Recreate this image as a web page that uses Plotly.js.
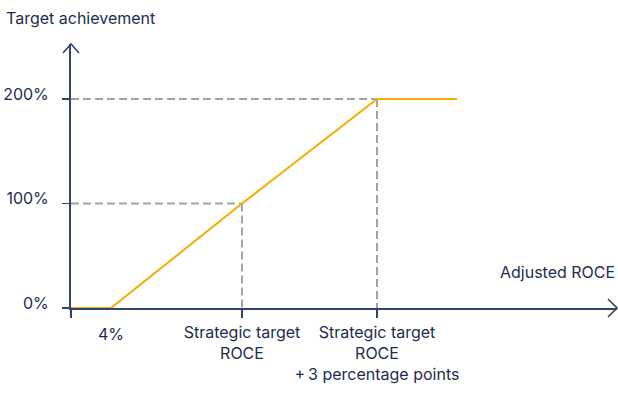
<!DOCTYPE html>
<html>
<head>
<meta charset="utf-8">
<script src="https://cdn.plot.ly/plotly-3.0.1.min.js"></script>
<style>
  html, body { margin: 0; padding: 0; background: #fff; }
  #chart { width: 618px; height: 398px; }
</style>
</head>
<body>
<div id="chart"></div>
<script>
// schematic ROCE positions (not to scale) and target achievement in %
var rocePos = [0, 4, 17.1, 30.6, 38.6];
var achievement = [0, 0, 100, 200, 200];

var xTickVals = [0, 17.1, 30.6];
var xTickText = ['', 'Strategic target<br>ROCE', 'Strategic target<br>ROCE<br>+\u20093 percentage points'];
var yTickVals = [0, 100, 200];
var yTickText = ['0%', '100%', '200%'];

var lowLabel = '4%';
var lowPos = 4;

var navy = '#1e2d4e';
var axisCol = '#34456a';
var orange = '#f7ac00';
var grey = '#a3a3a3';

var trace = {
  x: rocePos,
  y: achievement,
  mode: 'lines',
  line: { color: orange, width: 2 },
  hoverinfo: 'skip'
};

function guide(xv, yv) {
  return [
    { type: 'line', xref: 'x', yref: 'y', x0: 0, x1: xv, y0: yv, y1: yv,
      line: { color: grey, width: 2, dash: '8px,4px' }, layer: 'below' },
    { type: 'line', xref: 'x', yref: 'y', x0: xv, x1: xv, y0: yv, y1: 0,
      line: { color: grey, width: 2, dash: '8px,4px' }, layer: 'below' }
  ];
}

var shapes = guide(rocePos[2], achievement[2]).concat(guide(rocePos[3], achievement[3]));

// open arrow heads on both axes
shapes.push({
  type: 'path', xref: 'paper', yref: 'paper', xsizemode: 'pixel', ysizemode: 'pixel',
  xanchor: 0, yanchor: 1, path: 'M -8 -9 L 0 0 L 8 -9',
  line: { color: axisCol, width: 1.6 }
});
shapes.push({
  type: 'path', xref: 'paper', yref: 'paper', xsizemode: 'pixel', ysizemode: 'pixel',
  xanchor: 1, yanchor: 0, path: 'M -9 9 L 0 0 L -9 -9',
  line: { color: axisCol, width: 1.6 }
});

var layout = {
  width: 618,
  height: 398,
  margin: { l: 71, r: 1, t: 44, b: 90 },
  paper_bgcolor: '#fff',
  plot_bgcolor: '#fff',
  showlegend: false,
  font: { family: 'Inter, sans-serif', size: 16, color: navy },
  title: {
    text: 'Target achievement',
    xref: 'container', yref: 'container',
    x: 6 / 618, xanchor: 'left',
    y: 1 - 18 / 398, yanchor: 'middle',
    font: { size: 16, color: navy }
  },
  xaxis: {
    range: [0, 54.6],
    showgrid: false, zeroline: false,
    showline: true, linecolor: axisCol, linewidth: 2,
    ticks: 'outside', ticklen: 8, tickwidth: 1.5, tickcolor: axisCol,
    tickvals: xTickVals, ticktext: xTickText,
    tickangle: 0,
    ticklabelstandoff: 1,
    layer: 'below traces',
    fixedrange: true
  },
  yaxis: {
    range: [0, 252.6],
    showgrid: false, zeroline: false,
    showline: true, linecolor: axisCol, linewidth: 2,
    ticks: 'outside', ticklen: 7, tickwidth: 1.5, tickcolor: axisCol,
    tickvals: yTickVals, ticktext: yTickText,
    ticklabelstandoff: 10,
    ticklabelshift: -5,
    layer: 'below traces',
    fixedrange: true
  },
  shapes: shapes,
  annotations: [
    { x: lowPos, y: 0, xref: 'x', yref: 'y', text: lowLabel, showarrow: false,
      yanchor: 'top', yshift: -14, font: { size: 16, color: navy } },
    { x: 1, y: 34.5, xref: 'paper', yref: 'y', text: 'Adjusted ROCE', showarrow: false,
      xanchor: 'right', yanchor: 'middle', font: { size: 16, color: navy } }
  ]
};

Plotly.newPlot('chart', [trace], layout, { displayModeBar: false, staticPlot: true });
</script>
</body>
</html>
